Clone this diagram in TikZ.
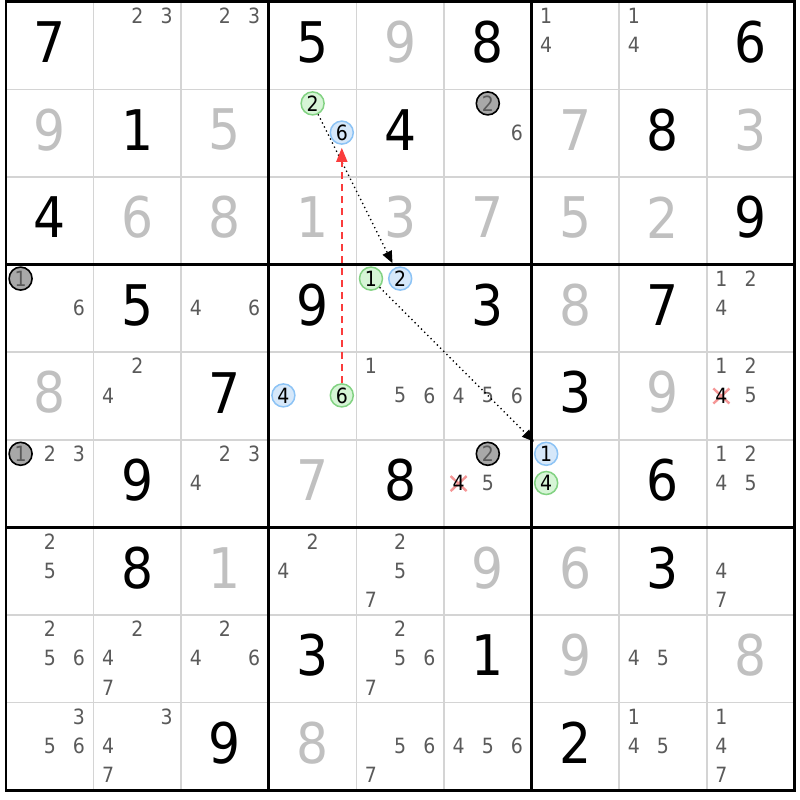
\documentclass[tikz,border=0pt]{standalone}
\usepackage{fontspec}
\setmainfont{DejaVu Sans}[FakeStretch=0.9]
\usetikzlibrary{arrows.meta}
\definecolor{candgray}{RGB}{90,90,90}
\definecolor{solved}{RGB}{192,192,192}
\definecolor{gridgray}{RGB}{212,212,212}
\definecolor{gfill}{RGB}{214,245,214}
\definecolor{gline}{RGB}{130,210,130}
\definecolor{bfill}{RGB}{214,232,250}
\definecolor{bline}{RGB}{140,195,245}
\definecolor{kfill}{RGB}{168,168,168}
\definecolor{redarrow}{RGB}{250,60,60}
\definecolor{xred}{RGB}{245,150,150}
\tikzset{
  given/.style={font=\fontsize{56}{60}\selectfont, text=black, inner sep=0pt},
  solvedd/.style={font=\fontsize{56}{60}\selectfont, text=solved, inner sep=0pt},
  cand/.style={font=\fontsize{21}{22}\selectfont, text=candgray, inner sep=0pt},
  xcand/.style={font=\fontsize{21}{22}\selectfont, text=black, inner sep=0pt},
  gcirc/.style={cand, text=black, circle, draw=gline, fill=gfill, line width=1.5pt, minimum size=23pt},
  bcirc/.style={cand, text=black, circle, draw=bline, fill=bfill, line width=1.5pt, minimum size=23pt},
  kcirc/.style={cand, text=candgray, circle, draw=black, fill=kfill, line width=1.6pt, minimum size=23pt},
  thingrid/.style={draw=gridgray, line width=1.6pt},
  thickgrid/.style={draw=black, line width=2.8pt},
  chainarrow/.style={draw=black, line width=1.3pt, dash pattern=on 1.3pt off 3.2pt, -{Triangle[length=12pt,width=10pt]}, shorten >=5pt},
  redlink/.style={draw=redarrow, line width=1.8pt, dash pattern=on 7pt off 5pt, -{Triangle[length=14pt,width=11pt]}, shorten >=3pt},
  xmark/.style={draw=xred, line width=2.4pt}
}
\begin{document}
\begin{tikzpicture}[x=1pt,y=-1pt]
\useasboundingbox[fill=white] (0,0) rectangle (800,800);
% thin grid
\foreach \i in {1,2,4,5,7,8} {
  \draw[thingrid] ({6+\i*87.6},1.8) -- ({6+\i*87.6},790.2);
  \draw[thingrid] (6,{1.8+\i*87.6}) -- (794.4,{1.8+\i*87.6});
}
% thick grid
\foreach \i in {3,6} {
  \draw[thickgrid] ({6+\i*87.6},1.8) -- ({6+\i*87.6},790.2);
  \draw[thickgrid] (6,{1.8+\i*87.6}) -- (794.4,{1.8+\i*87.6});
}
\draw[thickgrid] (6,1.8) rectangle (794.4,790.2);
% given digits
\foreach \r/\c/\d in {1/1/7,1/4/5,1/6/8,1/9/6,2/2/1,2/5/4,2/8/8,3/1/4,3/9/9,
  4/2/5,4/4/9,4/6/3,4/8/7,5/3/7,5/7/3,6/2/9,6/5/8,6/8/6,7/2/8,7/8/3,8/4/3,8/6/1,9/3/9,9/7/2} {
  \node[given] (g\r\c) at ({6+(\c-0.5)*87.6},{1.8+(\r-1)*87.6+40.4}) {\d};
}
% solved digits
\foreach \r/\c/\d in {1/5/9,2/1/9,2/3/5,2/7/7,2/9/3,3/2/6,3/3/8,3/4/1,3/5/3,3/6/7,3/7/5,3/8/2,
  4/7/8,5/1/8,5/8/9,6/4/7,7/3/1,7/6/9,7/7/6,8/7/9,8/9/8,9/4/8} {
  \node[solvedd] (s\r\c) at ({6+(\c-0.5)*87.6},{1.8+(\r-1)*87.6+40.4}) {\d};
}
% crosses under eliminated candidates
\foreach \r/\c/\d in {5/9/4,6/6/4} {
  \pgfmathsetmacro\cc{int(mod(\d-1,3))}
  \pgfmathsetmacro\rr{int(floor((\d-1)/3))}
  \coordinate (x\r\c\d) at ({6+(\c-1)*87.6+14.6+\cc*29.2},{1.8+(\r-1)*87.6+14.6+\rr*29.2});
  \draw[xmark] (x\r\c\d) +(-8,-7.5) -- +(8,7.5);
  \draw[xmark] (x\r\c\d) +(-8,7.5) -- +(8,-7.5);
}
% candidates
\foreach \r/\c/\d/\sty in {
  1/2/2/cand,1/2/3/cand,1/3/2/cand,1/3/3/cand,1/7/1/cand,1/7/4/cand,1/8/1/cand,1/8/4/cand,
  2/4/2/gcirc,2/4/6/bcirc,2/6/2/kcirc,2/6/6/cand,
  4/1/1/kcirc,4/1/6/cand,4/3/4/cand,4/3/6/cand,4/5/1/gcirc,4/5/2/bcirc,4/9/1/cand,4/9/2/cand,4/9/4/cand,
  5/2/2/cand,5/2/4/cand,5/4/4/bcirc,5/4/6/gcirc,5/5/1/cand,5/5/5/cand,5/5/6/cand,
  5/6/4/cand,5/6/5/cand,5/6/6/cand,5/9/1/cand,5/9/2/cand,5/9/4/xcand,5/9/5/cand,
  6/1/1/kcirc,6/1/2/cand,6/1/3/cand,6/3/2/cand,6/3/3/cand,6/3/4/cand,
  6/6/2/kcirc,6/6/4/xcand,6/6/5/cand,6/7/1/bcirc,6/7/4/gcirc,6/9/1/cand,6/9/2/cand,6/9/4/cand,6/9/5/cand,
  7/1/2/cand,7/1/5/cand,7/4/2/cand,7/4/4/cand,7/5/2/cand,7/5/5/cand,7/5/7/cand,7/9/4/cand,7/9/7/cand,
  8/1/2/cand,8/1/5/cand,8/1/6/cand,8/2/2/cand,8/2/4/cand,8/2/7/cand,8/3/2/cand,8/3/4/cand,8/3/6/cand,
  8/5/2/cand,8/5/5/cand,8/5/6/cand,8/5/7/cand,8/8/4/cand,8/8/5/cand,
  9/1/3/cand,9/1/5/cand,9/1/6/cand,9/2/3/cand,9/2/4/cand,9/2/7/cand,9/5/5/cand,9/5/6/cand,9/5/7/cand,
  9/6/4/cand,9/6/5/cand,9/6/6/cand,9/8/1/cand,9/8/4/cand,9/8/5/cand,9/9/1/cand,9/9/4/cand,9/9/7/cand} {
  \pgfmathsetmacro\cc{int(mod(\d-1,3))}
  \pgfmathsetmacro\rr{int(floor((\d-1)/3))}
  \node[\sty] (n\r\c\d) at ({6+(\c-1)*87.6+14.6+\cc*29.2},{1.8+(\r-1)*87.6+14+\rr*29.2}) {\d};
}
% links
\draw[chainarrow] (n242) -- (n452);
\draw[chainarrow] (n451) -- (n671);
\draw[redlink] (n546) -- (n246);
\end{tikzpicture}
\end{document}
